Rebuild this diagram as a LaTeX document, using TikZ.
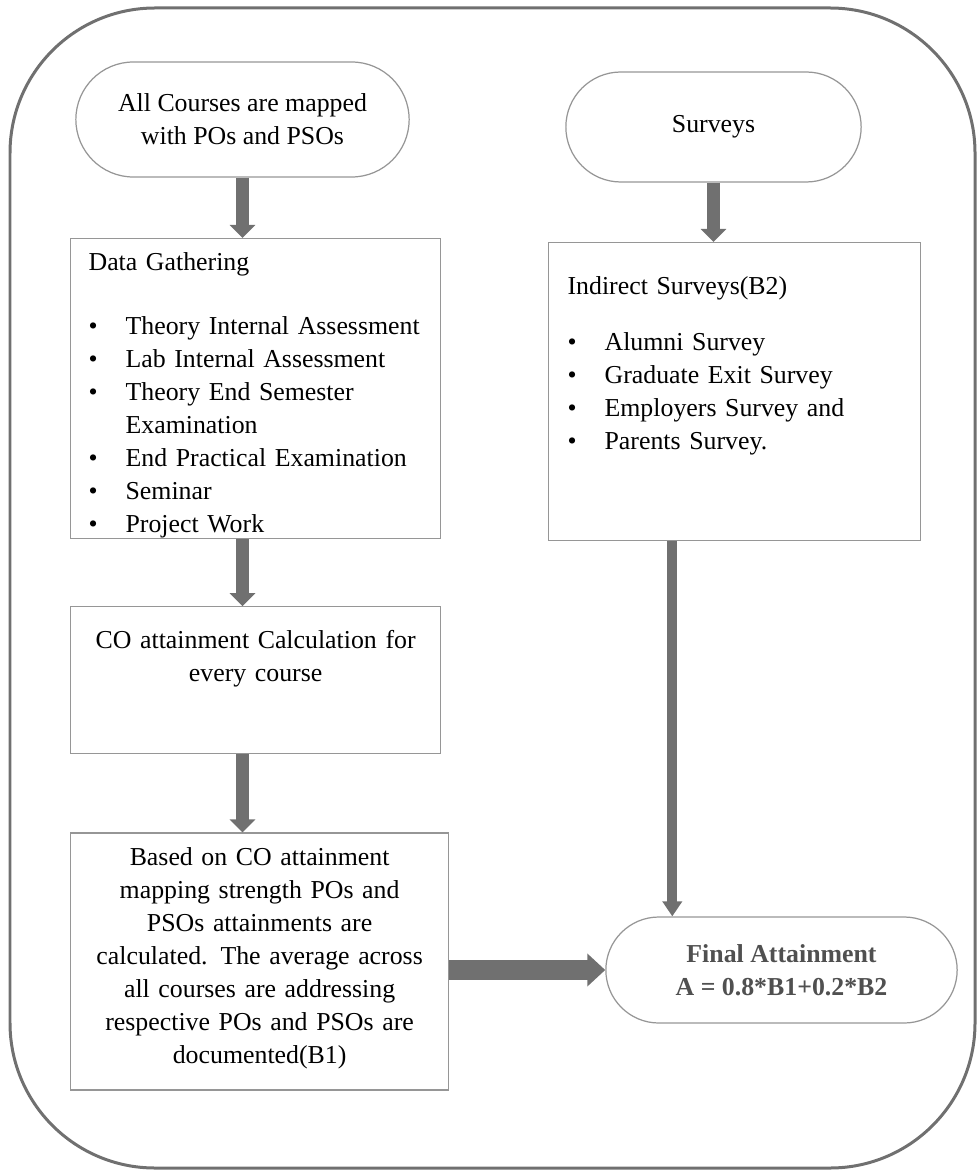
\documentclass[tikz,border=0pt]{standalone}
\usepackage{fontspec}
\setmainfont{Liberation Serif}
\usepackage{tikz}
\usetikzlibrary{arrows.meta, positioning, shapes.misc, calc}
\definecolor{FrameGray}{RGB}{112,112,112}
\definecolor{BoxGray}{RGB}{150,150,150}
\definecolor{ArrowGray}{RGB}{112,112,112}
\definecolor{FinalText}{RGB}{80,80,80}
\newcommand{\bitem}{\makebox[0.74cm][l]{\textbullet}}
\newcommand{\chartfont}{\fontsize{14.7}{18.8}\selectfont}

\begin{document}
\begin{tikzpicture}[
  pill/.style={rounded rectangle, draw=BoxGray, line width=0.7pt,
               align=center, font=\chartfont},
  listbox/.style={draw=BoxGray, line width=0.7pt, anchor=north west,
                  inner xsep=0.36cm, inner ysep=0pt, text width=6.68cm,
                  align=left, font=\chartfont},
  textbox/.style={draw=BoxGray, line width=0.7pt, anchor=north west,
                  inner ysep=0pt, align=center, font=\chartfont},
  arr/.style={-{Triangle[length=0.26cm, width=0.5cm]}, line width=0.26cm, ArrowGray},
  longarr/.style={-{Triangle[length=0.3cm, width=0.38cm]}, line width=0.2cm, ArrowGray},
  harr/.style={-{Triangle[length=0.36cm, width=0.64cm]}, line width=0.4cm, ArrowGray},
]
\useasboundingbox (0,0) rectangle (19.54,-23.42);
% outer frame
\draw[FrameGray, line width=0.06cm, rounded corners=2.9cm] (0.2,-0.16) rectangle (19.5,-23.36);

% left column
\node[pill, minimum width=6.9cm, minimum height=2.3cm] (allc) at (4.85,-2.39)
  {All Courses are mapped\\with POs and PSOs};
\node[listbox, text height=0.64cm, text depth=5.36cm] (dg) at (1.4,-4.76)
  {Data Gathering\\[17.5pt]
   \bitem Theory Internal Assessment\\
   \bitem Lab Internal Assessment\\
   \bitem Theory End Semester\\
   \hspace*{0.74cm}Examination\\
   \bitem End Practical Examination\\
   \bitem Seminar\\
   \bitem Project Work};
\node[textbox, inner xsep=0.36cm, text width=6.68cm, text height=0.84cm, text depth=2.1cm,
      below=1.34cm of dg.south west, anchor=north west] (co)
  {CO attainment Calculation for\\every course};
\node[textbox, inner xsep=0.1cm, text width=7.36cm, text height=0.64cm, text depth=4.5cm,
      below=1.56cm of co.south west, anchor=north west] (based)
  {Based on CO attainment\\
   mapping strength POs and\\
   PSOs attainments are\\
   calculated. The average across\\
   all courses are addressing\\
   respective POs and PSOs are\\
   documented(B1)};

% right column
\node[pill, minimum width=6.14cm, minimum height=2.2cm] (surv) at (14.27,-2.54) {Surveys};
\node[listbox, inner xsep=0.38cm, text height=1.04cm, text depth=4.92cm] (ind) at (10.96,-4.84)
  {Indirect Surveys(B2)\\[13pt]
   \bitem Alumni Survey\\
   \bitem Graduate Exit Survey\\
   \bitem Employers Survey and\\
   \bitem Parents Survey.};
\node[pill, minimum width=7.26cm, minimum height=2.12cm, text=FinalText,
      font=\chartfont\bfseries] (fin) at (15.63,-19.4)
  {Final Attainment\\A = 0.8*B1+0.2*B2};

% connectors
\draw[arr] (allc.south) -- (allc.south |- dg.north);
\draw[arr] (allc.south |- dg.south) -- (allc.south |- co.north);
\draw[arr] (allc.south |- co.south) -- (allc.south |- based.north);
\draw[arr] (surv.south) -- (surv.south |- ind.north);
\coordinate (drop) at ($(ind.south west)!0.333!(ind.south east)$);
\draw[longarr] (drop) -- (drop |- fin.north);
\draw[harr] (based.east |- fin.west) -- (fin.west);
\end{tikzpicture}
\end{document}
